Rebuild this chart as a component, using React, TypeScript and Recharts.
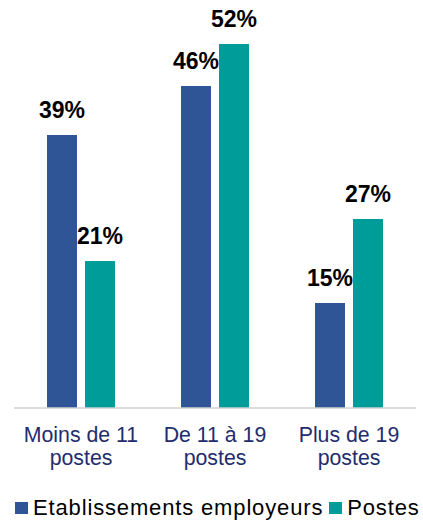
import { BarChart, Bar, XAxis, YAxis, LabelList } from 'recharts';

const categories = ['Moins de 11|postes', 'De 11 à 19|postes', 'Plus de 19|postes'];
const etablissements = [39, 46, 15];
const postes = [21, 52, 27];

const BLUE = '#2F5597';
const TEAL = '#009C99';
const FONT = '"Liberation Sans", Arial, sans-serif';

const data = categories.map((c, i) => ({
  name: c,
  etablissements: etablissements[i],
  postes: postes[i],
}));

const CategoryTick = ({ x, y, payload }: any) => {
  const [l1, l2] = String(payload.value).split('|');
  return (
    <text x={x} textAnchor="middle" fill="#1F2D6E" fontSize={21.3} fontFamily={FONT}>
      <tspan x={x} y={y + 26}>{l1}</tspan>
      <tspan x={x} y={y + 49}>{l2}</tspan>
    </text>
  );
};

const pct = (v: any) => `${v}%`;

const legendItems = [
  { label: 'Etablissements employeurs', color: BLUE },
  { label: 'Postes', color: TEAL },
];

export default function App() {
  return (
    <div style={{ position: 'absolute', left: 0, top: 0, width: 423, height: 520, background: '#fff' }}>
      <BarChart
        width={423}
        height={520}
        data={data}
        margin={{ top: 23, right: 7, left: 14, bottom: 0 }}
        barSize={30}
        barGap={8}
      >
        <XAxis
          dataKey="name"
          height={112}
          tickLine={false}
          axisLine={{ stroke: '#D0D0D0', strokeWidth: 1.5 }}
          tick={<CategoryTick />}
          interval={0}
        />
        <YAxis hide domain={[0, 55]} />
        <Bar dataKey="etablissements" fill={BLUE} isAnimationActive={false}>
          <LabelList
            dataKey="etablissements"
            position="top"
            offset={17}
            formatter={pct}
            fill="#000"
            fontSize={23}
            fontWeight="bold"
            fontFamily={FONT}
          />
        </Bar>
        <Bar dataKey="postes" fill={TEAL} isAnimationActive={false}>
          <LabelList
            dataKey="postes"
            position="top"
            offset={17}
            formatter={pct}
            fill="#000"
            fontSize={23}
            fontWeight="bold"
            fontFamily={FONT}
          />
        </Bar>
      </BarChart>
      <div
        style={{
          position: 'absolute',
          left: 15,
          top: 495,
          display: 'flex',
          alignItems: 'center',
          fontFamily: FONT,
          fontSize: 22,
          letterSpacing: 0.85,
          color: '#000',
          whiteSpace: 'nowrap',
        }}
      >
        {legendItems.map((it, i) => (
          <div key={it.label} style={{ display: 'flex', alignItems: 'center', marginRight: i === 0 ? 6 : 0 }}>
            <span style={{ display: 'inline-block', width: 13, height: 12, background: it.color, marginRight: 5 }} />
            <span>{it.label}</span>
          </div>
        ))}
      </div>
    </div>
  );
}
